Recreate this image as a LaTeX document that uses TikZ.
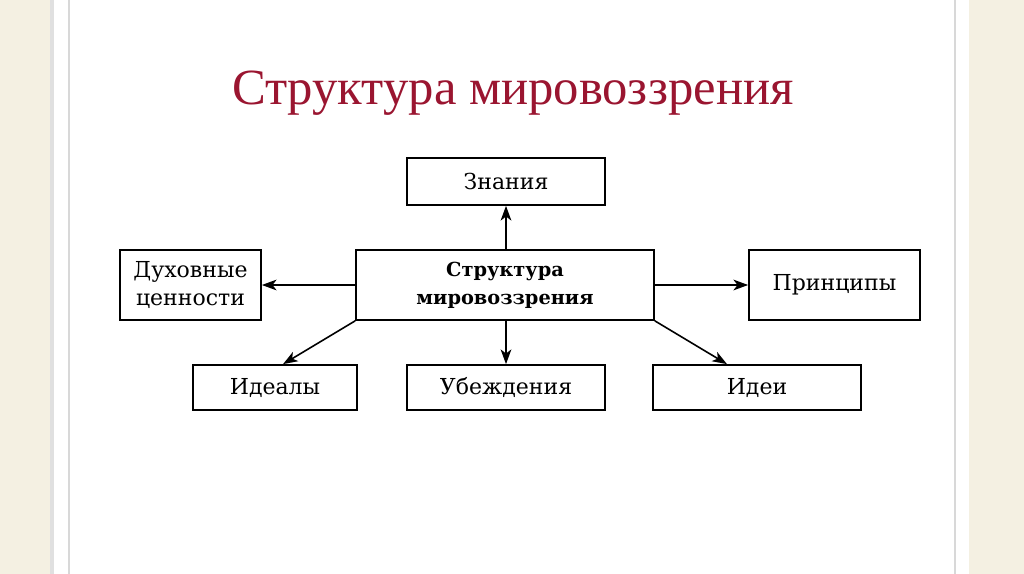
\documentclass[tikz,border=0pt]{standalone}
\usepackage{fontspec}
\setmainfont{Liberation Serif}
\newfontfamily\boxfont{DejaVu Serif}
\usetikzlibrary{arrows.meta}
\definecolor{beige}{HTML}{F4F0E2}
\definecolor{titlered}{HTML}{9A1530}
\definecolor{slideline}{HTML}{D8D8D8}
\tikzset{
  box/.style={draw=black, line width=1.3pt, inner sep=0pt, align=center, font=\boxfont\fontsize{16.5}{21}\selectfont},
  conn/.style={line width=1.2pt, -{Stealth[length=11pt,width=8pt,inset=3pt]}},
}
\begin{document}
\begin{tikzpicture}[x=0.75pt,y=-0.75pt]
\useasboundingbox (0,0) rectangle (1024,574);
\fill[beige] (0,0) rectangle (1024,574);
\fill[white] (53,0) rectangle (969,574);
\fill[black!12] (50,0) rectangle (54,574);
\draw[slideline, line width=1pt] (69,0) -- (69,574);
\draw[slideline, line width=1pt] (955,0) -- (955,574);

\node[text=titlered, font=\fontsize{38}{44}\selectfont] (title) at (513,93) {Структура мировоззрения};

\node[box, minimum width=198*0.75pt, minimum height=47*0.75pt] (zn) at (506,181.5) {Знания};
\node[box, minimum width=298*0.75pt, minimum height=70*0.75pt, font=\boxfont\bfseries\fontsize{14.5}{21}\selectfont] (c) at (505,285) {Структура\\мировоззрения};
\node[box, minimum width=141*0.75pt, minimum height=70*0.75pt] (dc) at (190.5,285) {Духовные\\ценности};
\node[box, minimum width=171*0.75pt, minimum height=70*0.75pt] (pr) at (834.5,285) {Принципы};
\node[box, minimum width=164*0.75pt, minimum height=45*0.75pt] (id) at (275,387.5) {Идеалы};
\node[box, minimum width=198*0.75pt, minimum height=45*0.75pt] (ub) at (506,387.5) {Убеждения};
\node[box, minimum width=208*0.75pt, minimum height=45*0.75pt] (ie) at (757,387.5) {Идеи};

\draw[conn] (zn.south |- c.north) -- (zn.south);
\draw[conn] (c.west) -- (dc.east);
\draw[conn] (c.east) -- (pr.west);
\draw[conn] (ub.north |- c.south) -- (ub.north);
\draw[conn] (c.south west) -- ([xshift=8*0.75pt]id.north);
\draw[conn] (c.south east) -- ([xshift=-30*0.75pt]ie.north);
\end{tikzpicture}
\end{document}
